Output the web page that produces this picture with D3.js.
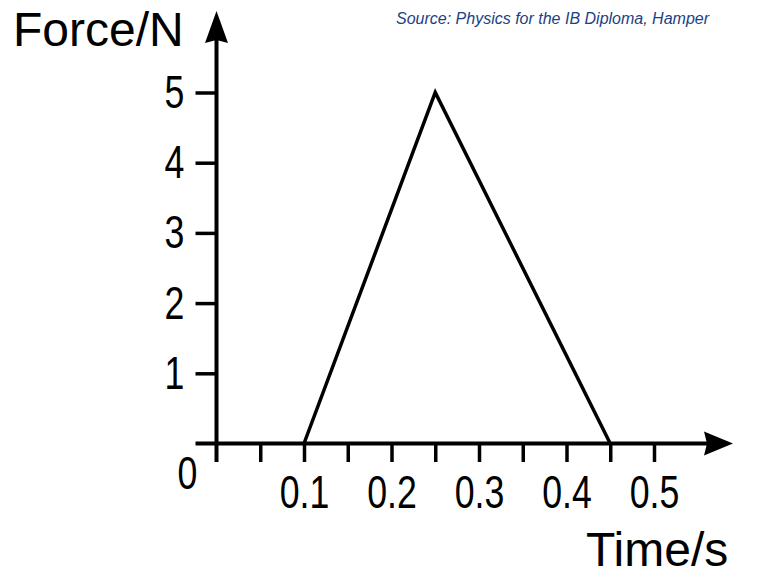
<!DOCTYPE html>
<html>
<head>
<meta charset="utf-8">
<script src="https://cdn.jsdelivr.net/npm/d3@7"></script>
<style>
  body { margin: 0; background: #fff; }
  .tick text, .origin { font-family: 'Liberation Sans', sans-serif; font-size: 47px; fill: #000; }
  .axis-title { font-family: 'Liberation Sans', sans-serif; font-size: 48px; fill: #000; }
  .source { font-family: 'Liberation Sans', Arial, sans-serif; font-size: 16px; font-style: italic; fill: #223f86; }
</style>
</head>
<body>
<svg width="757" height="577"></svg>
<script>
const times = [0.1, 0.25, 0.45];
const forces = [0, 5, 0];
const xTicks = [0.05, 0.1, 0.15, 0.2, 0.25, 0.3, 0.35, 0.4, 0.45, 0.5];
const xLabels = ['0.1', '0.2', '0.3', '0.4', '0.5'];
const yTicks = [1, 2, 3, 4, 5];

const svg = d3.select('svg');

const squeeze = 0.76; // the original lettering is narrow

const xScale = d3.scaleLinear()
  .domain([0, 0.5])
  .range([216.5, 654]);

const yScale = d3.scaleLinear()
  .domain([0, 5])
  .range([443.5, 92.5]);

const x0 = xScale(0);
const y0 = yScale(0);

// y ticks + labels
const yAxis = d3.axisLeft(yScale)
  .tickValues(yTicks)
  .tickSize(21)
  .tickSizeOuter(0)
  .tickPadding(10)
  .tickFormat(d3.format('d'));

const yAxisG = svg.append('g')
  .attr('transform', `translate(${x0},0)`)
  .call(yAxis);
yAxisG.select('.domain').remove();
yAxisG.selectAll('.tick line').attr('stroke', '#000').attr('stroke-width', 3.5);
yAxisG.selectAll('.tick text')
  .attr('text-anchor', 'middle')
  .attr('x', -42 / squeeze)
  .attr('transform', `scale(${squeeze},1)`);

// x ticks + labels
const xAxis = d3.axisBottom(xScale)
  .tickValues(xTicks)
  .tickSize(18.5)
  .tickSizeOuter(0)
  .tickPadding(13)
  .tickFormat(d => {
    const s = d3.format('.1f')(d);
    return xLabels.includes(s) && Math.abs(d * 10 - Math.round(d * 10)) < 1e-9 ? s : '';
  });

const xAxisG = svg.append('g')
  .attr('transform', `translate(0,${y0})`)
  .call(xAxis);
xAxisG.select('.domain').remove();
xAxisG.selectAll('.tick line').attr('stroke', '#000').attr('stroke-width', 3.5);
xAxisG.selectAll('.tick text').attr('transform', `scale(${squeeze},1)`);

// axis lines with arrows
svg.append('line')
  .attr('x1', x0).attr('x2', x0)
  .attr('y1', y0 + 18.5).attr('y2', 30)
  .attr('stroke', '#000').attr('stroke-width', 4);

svg.append('path')
  .attr('d', `M${x0},11 L${x0 + 11.5},43 L${x0},40 L${x0 - 11.5},43 Z`)
  .attr('fill', '#000');

svg.append('line')
  .attr('x1', x0 - 21).attr('x2', 715)
  .attr('y1', y0).attr('y2', y0)
  .attr('stroke', '#000').attr('stroke-width', 4);

svg.append('path')
  .attr('d', `M733,${y0} L704,${y0 - 12} L707,${y0} L704,${y0 + 12} Z`)
  .attr('fill', '#000');

// origin label
svg.append('text')
  .attr('class', 'origin')
  .attr('x', (x0 - 29) / squeeze)
  .attr('y', y0 + 46)
  .attr('text-anchor', 'middle')
  .attr('transform', `scale(${squeeze},1)`)
  .text('0');

// data line
const line = d3.line()
  .x((d, i) => xScale(times[i]))
  .y(d => yScale(d));

svg.append('path')
  .datum(forces)
  .attr('d', line)
  .attr('fill', 'none')
  .attr('stroke', '#000')
  .attr('stroke-width', 3.5)
  .attr('stroke-linejoin', 'miter');

// titles
svg.append('text')
  .attr('class', 'axis-title')
  .attr('x', 13)
  .attr('y', 46)
  .text('Force/N');

svg.append('text')
  .attr('class', 'axis-title')
  .attr('x', 586)
  .attr('y', 566)
  .text('Time/s');

svg.append('text')
  .attr('class', 'source')
  .attr('x', 396)
  .attr('y', 24)
  .text('Source: Physics for the IB Diploma, Hamper');
</script>
</body>
</html>
